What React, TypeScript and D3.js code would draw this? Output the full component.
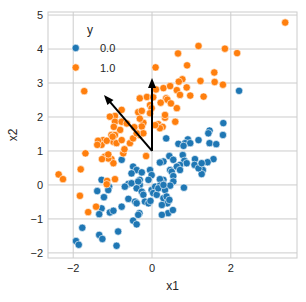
import React from "react";
import * as d3 from "d3";

// class 0.0 (blue) points, [x1, x2]
const blueX = [
  2.21, 1.81, 1.46, 1.43, 1.80, 0.36, 1.18, 0.91, 0.84, 0.97, 0.67, 1.46, 1.63, 0.80, 0.78, 0.44,
  0.29, 0.20, 0.54, 0.82, 0.88, 1.09, 1.08, 1.56, 1.41, 0.71, 0.46, 0.50, 0.54, 1.29, 1.26, 0.29,
  0.25, 0.54, 0.46, 0.81, -0.77, 0.63, 0.71, 1.18, 1.26, -0.48, -0.39, -0.26, -0.52, -0.05, -0.01, -0.31,
  -0.09, 0.20, -1.28, -1.09, -0.60, -0.69, -0.52, -0.31, -0.35, -1.39, -1.22, -1.11, -0.39, -0.26, -0.22, -0.18,
  -0.09, -0.04, -0.01, 0.08, 0.03, 0.20, 0.12, 0.16, 0.33, 0.29, 0.29, 0.37, 0.39, 0.25, 0.41, 0.53,
  0.25, 0.44, -0.77, -0.60, -0.43, -0.39, -0.32, -0.48, -0.39, -0.35, -1.28, -1.34, -1.07, -0.98, -1.77, -1.34,
  -1.26, -1.93, -1.86, -0.86, -0.90,
];
const blueY = [
  2.77, 1.82, 1.60, 1.52, 1.47, 1.37, 1.32, 1.34, 1.23, 1.23, 1.21, 1.23, 1.20, 1.15, 0.88, 0.85,
  0.69, 0.66, 0.74, 0.71, 0.64, 0.76, 0.59, 0.76, 0.67, 0.59, 0.44, 0.39, 0.26, 0.44, 0.32, 0.15,
  0.07, 0.10, -0.02, -0.08, 0.74, 0.54, 0.44, 0.49, 0.64, 0.54, 0.44, 0.37, 0.34, 0.44, 0.29, 0.15,
  0.15, 0.17, 0.15, -0.05, 0.03, -0.05, 0.05, 0.00, 0.10, -0.18, -0.36, -0.15, -0.10, -0.20, -0.29, -0.49,
  -0.54, -0.47, -0.15, -0.05, -0.24, -0.02, -0.29, -0.10, -0.15, 0.00, -0.39, -0.34, -0.54, -0.59, -0.83, -0.74,
  -0.88, -0.44, -0.64, -0.41, -0.49, -0.54, -0.83, -1.05, -1.16, -0.88, -0.69, -0.86, -0.81, -0.76, -1.26, -1.47,
  -1.59, -1.65, -1.76, -1.37, -1.79,
];

// class 1.0 (orange) points
const orangeX = [
  3.38, 1.18, 1.85, 2.16, 0.66, 0.89, 1.58, 0.77, 0.68, 1.23, 1.59, 1.80, 0.29, 0.46, 0.63, 0.88,
  0.71, 0.97, 1.31, 0.36, 0.09, -1.72, 0.10, 0.39, -0.31, -0.13, -0.35, -0.26, -0.05, -0.01, -0.05, 0.63,
  0.33, 0.59, -0.22, 0.16, -0.77, -0.94, -1.07, 0.33, 0.27, 0.20, -0.94, -0.77, -0.64, -0.26, 0.08, -0.81,
  -1.03, -0.94, -0.98, -0.90, -0.56, -0.48, -0.31, -0.22, -0.39, -1.24, -1.28, -0.73, -1.03, -0.98, -1.20, -1.11,
  -0.15, -0.94, -1.14, -0.97, -1.15, -1.37, -1.39, -1.00, -1.69, -1.11, -1.27, -1.81, -2.37, -2.26, -1.15, -1.83,
  -1.42, -1.62, 0.03, -0.31, -0.45, -0.77, -0.70, 0.48, 0.22,
];
const orangeY = [
  4.78, 4.09, 4.01, 3.88, 3.87, 3.52, 3.31, 3.11, 3.04, 3.06, 3.03, 2.95, 2.85, 2.91, 2.79, 2.87,
  2.65, 2.63, 2.60, 2.55, 3.46, 2.76, 2.81, 2.51, 2.55, 2.59, 2.14, 2.18, 2.35, 2.26, 2.11, 2.26,
  1.98, 1.86, 1.83, 1.79, 2.21, 2.03, 2.01, 2.06, 1.71, 1.67, 1.86, 1.86, 1.81, 1.72, 1.76, 1.62,
  1.47, 1.47, 1.27, 1.23, 1.23, 1.37, 1.47, 1.52, 1.52, 1.32, 1.18, 0.93, 0.76, 0.64, 0.83, 0.78,
  0.85, 0.17, 0.12, 1.71, 1.30, 1.30, 1.18, 1.42, 0.93, 0.90, 0.76, 0.46, 0.31, 0.17, 0.02, -0.32,
  -0.64, -0.80, 2.58, 1.95, 1.70, 1.32, 1.05, 2.40, 2.42,
];

const xTicks = [-2, 0, 2];
const yTicks = [-2, -1, 0, 1, 2, 3, 4, 5];
const classLabels = ["0.0", "1.0"];
const classColors = ["#1f77b4", "#ff7f0e"];

// arrows drawn from the mean
const arrowStart = [0, 1];
const arrowEnds = [
  [0, 3.15],
  [-1.22, 2.65],
];

const W = 306;
const H = 302;
const margin = { top: 12, right: 9, bottom: 44, left: 48 };
const font = "'Liberation Sans', Arial, sans-serif";
const grid = "#cccccc";
const textCol = "#262626";

export default function App() {
  const x = d3.scaleLinear().domain([-2.64, 3.68]).range([margin.left, W - margin.right]);
  const y = d3.scaleLinear().domain([-2.15, 5.09]).range([H - margin.bottom, margin.top]);

  const blue = blueX.map((v, i) => [v, blueY[i]]);
  const orange = orangeX.map((v, i) => [v, orangeY[i]]);

  const arrowHead = (x0: number, y0: number, x1: number, y1: number) => {
    const ang = Math.atan2(y1 - y0, x1 - x0);
    const len = 10;
    const hw = 4;
    const bx = x1 - len * Math.cos(ang);
    const by = y1 - len * Math.sin(ang);
    const px = -Math.sin(ang) * hw;
    const py = Math.cos(ang) * hw;
    return `M${x1},${y1}L${bx + px},${by + py}L${bx - px},${by - py}Z`;
  };

  const x0 = x(arrowStart[0]);
  const y0 = y(arrowStart[1]);

  return (
    <svg width={W} height={H} style={{ position: "absolute", left: 0, top: 0, background: "#fff" }} fontFamily={font}>
      {/* grid */}
      {xTicks.map((t) => (
        <line key={"gx" + t} x1={x(t)} x2={x(t)} y1={margin.top} y2={H - margin.bottom} stroke={grid} strokeWidth={1} />
      ))}
      {yTicks.map((t) => (
        <line key={"gy" + t} x1={margin.left} x2={W - margin.right} y1={y(t)} y2={y(t)} stroke={grid} strokeWidth={1} />
      ))}
      <rect
        x={margin.left}
        y={margin.top}
        width={W - margin.left - margin.right}
        height={H - margin.top - margin.bottom}
        fill="none"
        stroke={grid}
        strokeWidth={1}
      />

      {/* points */}
      {blue.map((d, i) => (
        <circle key={"b" + i} cx={x(d[0])} cy={y(d[1])} r={3.7} fill={classColors[0]} stroke="#fff" strokeWidth={0.6} />
      ))}
      {orange.map((d, i) => (
        <circle key={"o" + i} cx={x(d[0])} cy={y(d[1])} r={3.7} fill={classColors[1]} stroke="#fff" strokeWidth={0.6} />
      ))}

      {/* arrows */}
      {arrowEnds.map((e, i) => {
        const x1 = x(e[0]);
        const y1 = y(e[1]);
        const ang = Math.atan2(y1 - y0, x1 - x0);
        return (
          <g key={"a" + i}>
            <line x1={x0} y1={y0} x2={x1 - 6 * Math.cos(ang)} y2={y1 - 6 * Math.sin(ang)} stroke="#000" strokeWidth={2} />
            <path d={arrowHead(x0, y0, x1, y1)} fill="#000" />
          </g>
        );
      })}

      {/* tick labels */}
      {xTicks.map((t) => (
        <text key={"tx" + t} x={x(t)} y={H - margin.bottom + 14} textAnchor="middle" fontSize={11} fill={textCol}>
          {t < 0 ? "\u2212" + Math.abs(t) : t}
        </text>
      ))}
      {yTicks.map((t) => (
        <text key={"ty" + t} x={margin.left - 5} y={y(t) + 4} textAnchor="end" fontSize={11} fill={textCol}>
          {t < 0 ? "\u2212" + Math.abs(t) : t}
        </text>
      ))}

      {/* axis labels */}
      <text x={(margin.left + W - margin.right) / 2} y={H - 12} textAnchor="middle" fontSize={12} fill={textCol}>
        x1
      </text>
      <text
        transform={`translate(17,${(margin.top + H - margin.bottom) / 2}) rotate(-90)`}
        textAnchor="middle"
        fontSize={12}
        fill={textCol}
      >
        x2
      </text>

      {/* legend */}
      <text x={90} y={34} textAnchor="middle" fontSize={12} fill={textCol}>
        y
      </text>
      {classLabels.map((l, i) => (
        <g key={"l" + i}>
          <circle cx={75.7} cy={48 + i * 19.5} r={3.7} fill={classColors[i]} stroke="#fff" strokeWidth={0.6} />
          <text x={100} y={48 + i * 19.5 + 4} fontSize={11} fill={textCol}>
            {l}
          </text>
        </g>
      ))}
    </svg>
  );
}
